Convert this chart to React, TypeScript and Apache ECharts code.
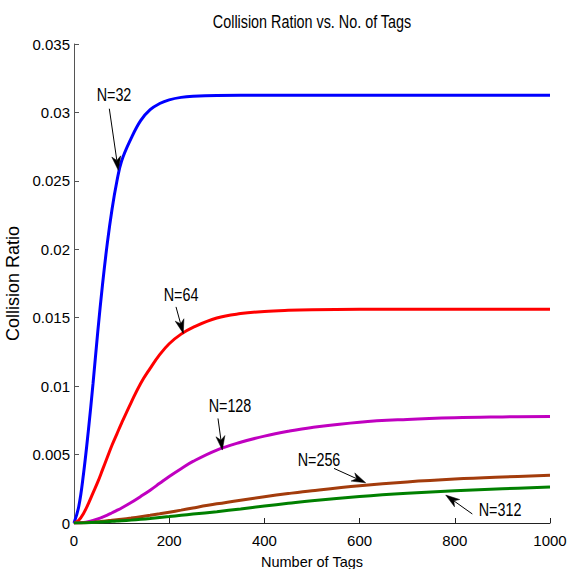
import React, { useEffect, useRef } from "react";
import * as echarts from "echarts";

const tags = [0, 10, 20, 30, 40, 50, 60, 70, 80, 90, 100, 120, 140, 160, 180, 200, 225, 250, 300, 350, 400, 450, 500, 600, 700, 800, 900, 1000];

const ratioN32 = [0, 0.0012, 0.0036, 0.0067, 0.0102, 0.014, 0.01745, 0.02045, 0.02295, 0.02495, 0.02645, 0.0281, 0.0294, 0.0302, 0.03065, 0.03092, 0.0311, 0.03118, 0.03124, 0.03125, 0.03125, 0.03125, 0.03125, 0.03125, 0.03125, 0.03125, 0.03125, 0.03125];
const ratioN64 = [0, 0.0002, 0.0007, 0.0014, 0.0022, 0.003, 0.0039, 0.0048, 0.0057, 0.0065, 0.0073, 0.0088, 0.0102, 0.0113, 0.0123, 0.0131, 0.0138, 0.0143, 0.01498, 0.0153, 0.01546, 0.01554, 0.01558, 0.01561, 0.015625, 0.015625, 0.015625, 0.015625];
const ratioN128 = [0, 0.00001, 0.00004, 0.0001, 0.00019, 0.0003, 0.00043, 0.00058, 0.00075, 0.00092, 0.0011, 0.0015, 0.00194, 0.0024, 0.0029, 0.0034, 0.00397, 0.0045, 0.00533, 0.0059, 0.00635, 0.0067, 0.00698, 0.00737, 0.00757, 0.00769, 0.00775, 0.00779];
const ratioN256 = [0, 0.000004, 0.000015, 0.00003, 0.00006, 0.00009, 0.00012, 0.00016, 0.0002, 0.00023, 0.00027, 0.00036, 0.00046, 0.00056, 0.00067, 0.00079, 0.00094, 0.0011, 0.0014, 0.00167, 0.00192, 0.00215, 0.00236, 0.00272, 0.003, 0.00321, 0.00336, 0.00348];
const ratioN312 = [0, 0.000002, 0.000007, 0.00002, 0.00004, 0.00006, 0.00008, 0.0001, 0.00012, 0.00014, 0.00016, 0.00021, 0.00027, 0.00033, 0.0004, 0.00047, 0.00056, 0.00065, 0.00083, 0.00103, 0.00124, 0.00144, 0.00163, 0.00193, 0.00217, 0.00236, 0.0025, 0.00263];

const seriesNames = ["N=32", "N=64", "N=128", "N=256", "N=312"];
const seriesColors = ["#0000ff", "#ff0000", "#c000c0", "#a33c0c", "#008000"];
const seriesValues = [ratioN32, ratioN64, ratioN128, ratioN256, ratioN312];

// annotation anchors in data space: [tags, ratio]
const labelAt = [[84, 0.03124], [224.8, 0.01664], [327.7, 0.00854], [514.7, 0.0046], [895, 0.00095]];
const arrowFrom = [[74.2, 0.03027], [214.3, 0.01579], [302.5, 0.00764], [546.2, 0.00399], [836.8, 0.00066]];
const arrowTo = [[93, 0.02577], [229.6, 0.01385], [311.6, 0.00533], [612.8, 0.00294], [780.9, 0.00204]];

const xTicks = { min: 0, max: 1000, interval: 200 };
const yTicks = { min: 0, max: 0.035, interval: 0.005 };

const FONT = "'Liberation Sans', Arial, sans-serif";

export default function App() {
  const ref = useRef<HTMLDivElement>(null);
  useEffect(() => {
    const chart = echarts.init(ref.current!, null, { renderer: "svg" });
    chart.setOption({
      animation: false,
      backgroundColor: "#ffffff",
      grid: { left: 74, right: 18, top: 44, bottom: 46, containLabel: false, outerBoundsMode: "none" },
      xAxis: {
        type: "value",
        ...xTicks,
        name: "Number of Tags",
        nameLocation: "middle",
        nameGap: 31,
        nameTextStyle: { color: "#000", fontSize: 14.5, fontFamily: FONT },
        axisLine: { show: true, lineStyle: { color: "#222", width: 1 } },
        axisTick: { show: true, inside: true, length: 5, lineStyle: { color: "#222" } },
        axisLabel: {
          color: "#000",
          fontSize: 15,
          fontFamily: FONT,
          margin: 10,
          formatter: (v: number) => String(v),
        },
        splitLine: { show: false },
      },
      yAxis: {
        type: "value",
        ...yTicks,
        name: "Collision Ratio",
        nameLocation: "middle",
        nameGap: 46,
        nameTextStyle: { color: "#000", fontSize: 18, fontFamily: FONT },
        axisLine: { show: true, lineStyle: { color: "#555", width: 1 } },
        axisTick: { show: true, inside: true, length: 5, lineStyle: { color: "#555" } },
        axisLabel: {
          color: "#000",
          fontSize: 15,
          fontFamily: FONT,
          margin: 4,
          formatter: (v: number) => String(parseFloat(v.toFixed(4))),
        },
        splitLine: { show: false },
      },
      series: seriesValues.map((vals, i) => ({
        type: "line",
        name: seriesNames[i],
        data: tags.map((t, j) => [t, vals[j]]),
        showSymbol: false,
        symbol: "none",
        smooth: 0.4,
        lineStyle: { width: 3, color: seriesColors[i] },
        itemStyle: { color: seriesColors[i] },
        z: 2,
      })),
    });

    const graphics: any[] = [];
    const cx = chart.convertToPixel({ xAxisIndex: 0 }, 500) as number;
    graphics.push({
      type: "text",
      x: cx,
      y: 22,
      scaleX: 0.82,
      style: {
        text: "Collision Ration vs. No. of Tags",
        fill: "#000",
        font: `17.5px ${FONT}`,
        textAlign: "center",
        textVerticalAlign: "middle",
      },
      z: 10,
    });
    seriesNames.forEach((name, i) => {
      const lp = chart.convertToPixel({ gridIndex: 0 }, labelAt[i]) as number[];
      const a = chart.convertToPixel({ gridIndex: 0 }, arrowFrom[i]) as number[];
      const b = chart.convertToPixel({ gridIndex: 0 }, arrowTo[i]) as number[];
      graphics.push({
        type: "text",
        x: lp[0],
        y: lp[1],
        scaleX: 0.82,
        style: {
          text: name,
          fill: "#000",
          font: `17.5px ${FONT}`,
          textAlign: "center",
          textVerticalAlign: "middle",
        },
        z: 10,
      });
      const dx = b[0] - a[0];
      const dy = b[1] - a[1];
      const len = Math.sqrt(dx * dx + dy * dy);
      const ux = dx / len;
      const uy = dy / len;
      const px = -uy;
      const py = ux;
      const headLen = 14;
      const notch = 10;
      const halfW = 4.5;
      const back = [b[0] - ux * headLen, b[1] - uy * headLen];
      const mid = [b[0] - ux * notch, b[1] - uy * notch];
      graphics.push({
        type: "line",
        shape: { x1: a[0], y1: a[1], x2: mid[0], y2: mid[1] },
        style: { stroke: "#000", lineWidth: 1 },
        z: 10,
      });
      graphics.push({
        type: "polygon",
        shape: {
          points: [
            [b[0], b[1]],
            [back[0] + px * halfW, back[1] + py * halfW],
            [mid[0], mid[1]],
            [back[0] - px * halfW, back[1] - py * halfW],
          ],
        },
        style: { fill: "#000", stroke: "#000", lineWidth: 0.5 },
        z: 10,
      });
    });
    chart.setOption({ graphic: graphics });

    return () => chart.dispose();
  }, []);
  return <div ref={ref} style={{ position: "absolute", left: 0, top: 0, width: 568, height: 569 }} />;
}
